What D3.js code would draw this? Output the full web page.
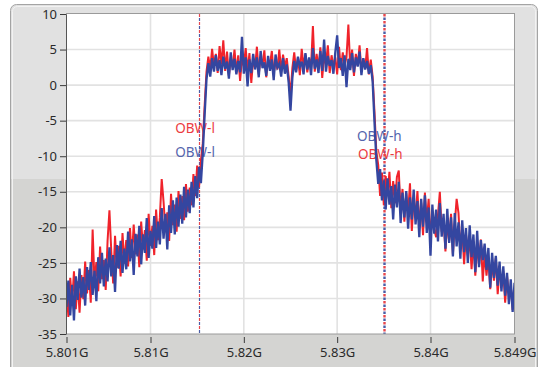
<!DOCTYPE html>
<html>
<head>
<meta charset="utf-8">
<script src="https://cdn.jsdelivr.net/npm/d3@7"></script>
<style>
  body { margin: 0; background: #ffffff; }
  svg { display: block; font-family: "Noto Sans", "DejaVu Sans", sans-serif; }
</style>
</head>
<body>
<div id="canvas"></div>
<script>
"use strict"

/* sweep grid of the trace: first point and spacing in Hz */
let freqStart = 5.801e9;
let freqStep = 0.2e6;

/* blue trace, dB, one value per sweep point */
let blueTrace = [
  -31.2,-27.5,-32.4,-28.1,-33.1,-26.9,-30.2,-25.8,-29.9,-27.0,
  -31.0,-25.6,-28.8,-24.9,-29.5,-26.1,-30.4,-24.2,-27.9,-23.6,
  -28.3,-24.4,-27.6,-22.8,-26.9,-23.9,-29.1,-22.5,-25.8,-21.9,
  -26.4,-23.0,-25.9,-20.6,-24.8,-21.7,-26.7,-20.9,-24.1,-19.8,
  -25.2,-21.0,-23.6,-18.7,-24.3,-20.5,-23.0,-18.4,-22.9,-19.2,
  -22.4,-17.3,-21.6,-18.1,-23.1,-16.9,-20.8,-16.2,-21.0,-15.8,
  -19.9,-15.4,-19.5,-14.3,-18.6,-14.7,-18.0,-13.6,-17.2,-12.8,
  -15.9,-11.5,-13.8,-9.6,-4.2,0.8,
  3.1,1.2,3.8,1.9,4.2,2.0,3.5,1.4,4.0,2.3,
  3.3,0.9,4.6,2.1,3.7,1.5,3.4,1.8,6.8,1.6,
  3.9,-0.2,3.6,1.7,4.4,2.2,3.9,1.1,4.8,2.4,
  3.2,1.3,4.1,2.0,3.6,0.7,4.3,2.5,3.0,1.2,
  3.8,1.6,2.9,0.4,-3.6,1.0,3.4,1.8,4.0,2.6,
  3.3,1.5,4.5,2.2,3.9,1.4,5.2,2.3,3.6,1.7,
  4.8,2.0,6.4,1.9,4.1,2.7,3.5,1.6,4.6,7.0,
  2.4,3.8,1.3,4.2,-0.3,3.7,2.1,4.5,1.8,3.9,
  2.6,4.7,1.4,3.8,2.2,3.4,1.6,2.8,0.5,
  -5.2,-10.6,-13.9,-11.8,-16.2,-13.4,-17.5,-13.1,-16.8,-14.2,
  -18.9,-14.0,-17.2,-13.6,-19.4,-15.1,-18.6,-14.9,-20.2,-15.8,
  -18.9,-14.7,-19.6,-16.3,-21.4,-16.0,-19.9,-15.5,-20.8,-17.2,
  -24.0,-16.8,-20.9,-17.5,-22.0,-16.6,-21.3,-18.1,-23.0,-17.4,
  -22.2,-18.6,-24.1,-18.0,-22.7,-19.3,-24.4,-19.0,-23.5,-20.1,
  -25.0,-19.7,-24.2,-21.0,-26.3,-20.5,-25.6,-21.8,-24.6,-22.3,
  -26.0,-22.9,-28.5,-23.6,-27.1,-24.0,-28.2,-24.8,-29.0,-25.5,
  -29.6,-26.4,-30.8,-27.3,-31.9,-27.8,-32.8
];

/* red trace, dB, same sweep points */
let redTrace = [
  -28.4,-32.6,-27.1,-30.8,-26.2,-31.5,-27.6,-32.0,-26.7,-30.1,
  -24.8,-29.3,-26.0,-30.6,-20.3,-27.8,-24.9,-29.0,-22.7,-27.3,
  -24.6,-28.8,-21.9,-17.6,-23.4,-27.9,-21.2,-25.7,-22.6,-26.9,
  -20.8,-25.1,-21.8,-25.5,-20.1,-24.3,-19.6,-23.8,-21.0,-25.6,
  -19.2,-23.1,-20.4,-24.7,-18.1,-22.6,-19.8,-23.9,-17.5,-21.8,
  -18.6,-13.2,-16.4,-20.5,-17.9,-21.9,-15.3,-19.7,-16.8,-20.6,
  -14.9,-18.8,-15.6,-19.0,-13.9,-17.8,-14.4,-16.9,-12.5,-15.6,
  -11.3,-14.4,-10.6,-8.2,-2.9,1.9,
  4.0,2.2,5.1,2.6,4.4,1.7,5.5,2.9,6.3,2.0,
  4.7,1.3,3.9,2.5,5.0,1.8,4.2,0.6,3.8,2.7,
  5.2,1.9,4.5,0.3,3.7,2.4,5.4,1.5,4.0,2.8,
  4.9,1.1,3.6,2.9,4.8,1.6,3.5,2.2,5.0,1.9,
  4.3,2.6,3.8,1.2,-1.5,2.4,4.6,2.0,3.9,1.4,
  5.1,2.7,4.3,1.8,3.7,2.5,8.3,1.9,4.4,2.3,
  5.3,1.0,4.1,2.9,5.6,1.7,4.2,2.6,3.9,1.5,
  5.4,2.1,4.6,2.8,3.9,8.5,2.4,5.0,1.3,4.4,
  2.7,5.6,1.9,3.7,2.3,5.2,1.5,3.6,1.2,
  -3.8,-9.4,-11.2,-15.6,-12.3,-16.9,-12.8,-15.4,-12.2,-17.3,
  -13.5,-16.6,-12.9,-12.0,-17.9,-14.6,-19.2,-15.2,-18.1,-13.8,
  -20.5,-15.9,-18.7,-14.9,-20.0,-16.5,-21.1,-15.1,-19.3,-16.0,
  -21.6,-17.9,-20.2,-21.4,-18.3,-15.0,-20.6,-18.9,-23.4,-19.2,
  -22.0,-18.1,-23.8,-19.5,-16.0,-18.0,-23.1,-20.3,-25.2,-20.9,
  -24.0,-21.5,-25.9,-21.9,-26.8,-22.4,-25.3,-21.7,-27.6,-23.6,
  -26.8,-24.2,-28.7,-24.9,-27.5,-24.3,-29.4,-25.8,-28.1,-26.2,
  -30.6,-26.9,-29.4,-28.3,-31.6
];

/* axis ticks */
let xTicks = [5.801e9, 5.81e9, 5.82e9, 5.83e9, 5.84e9, 5.849e9];
let yTicks = [-35, -30, -25, -20, -15, -10, -5, 0, 5, 10];

/* occupied bandwidth markers */
let obwNames = ["OBW-l", "OBW-h"];
let obwFreqs = [5.81522e9, 5.83502e9];

let W = 544, H = 367;
let plot = {left: 66.5, right: 514.5, top: 14, bottom: 334};

let drawing = d3.select("#canvas")
    .append("svg")
    .attr("width", W)
    .attr("height", H);

/* panel behind the graph: light on top, darker lower half */
let grad = drawing.append("defs").append("linearGradient")
    .attr("id", "panelFill")
    .attr("x1", 0).attr("y1", 0).attr("x2", 0).attr("y2", 1);
grad.append("stop").attr("offset", "0.46").attr("stop-color", "#e1e1e1");
grad.append("stop").attr("offset", "0.46").attr("stop-color", "#d4d4d2");

drawing.append("rect")
    .attr("x", 10.5).attr("y", 4.5)
    .attr("width", 527).attr("height", 380)
    .attr("rx", 6)
    .attr("fill", "url(#panelFill)")
    .attr("stroke", "#a4a4a4");
drawing.append("rect")
    .attr("x", 12.5).attr("y", 6.5)
    .attr("width", 523).attr("height", 380)
    .attr("rx", 5)
    .attr("fill", "none")
    .attr("stroke", "#f2f2f2");

let x = d3.scaleLinear().domain([5.801e9, 5.849e9]).range([plot.left, plot.right]);
let y = d3.scaleLinear().domain([-35, 10]).range([plot.bottom, plot.top]);

drawing.append("rect")
    .attr("x", plot.left).attr("y", plot.top)
    .attr("width", plot.right - plot.left).attr("height", plot.bottom - plot.top)
    .attr("fill", "#ffffff");

/* grid */
let grid = drawing.append("g").attr("stroke", "#e2e2e2").attr("stroke-width", 1.6);
grid.selectAll("line.v")
    .data(xTicks.slice(1, -1))
    .join("line")
    .attr("x1", d => x(d)).attr("x2", d => x(d))
    .attr("y1", plot.top).attr("y2", plot.bottom);
grid.selectAll("line.h")
    .data(yTicks.slice(1, -1))
    .join("line")
    .attr("y1", d => y(d)).attr("y2", d => y(d))
    .attr("x1", plot.left).attr("x2", plot.right);

/* markers: left one thin dashed, right one heavy dotted, red and blue in turn */
let mWidth = [1.2, 2.4];
let mDash = [["3,5", 0, 4], ["2.5,4.5", 0, 3.5]];
obwFreqs.forEach((f, k) => {
    let mx = Math.round(x(f)) + 0.5;
    drawing.append("line")
        .attr("x1", mx).attr("x2", mx).attr("y1", plot.top).attr("y2", plot.bottom)
        .attr("stroke", "#e8474c").attr("stroke-width", mWidth[k])
        .attr("stroke-dasharray", mDash[k][0]).attr("stroke-dashoffset", mDash[k][1]);
    drawing.append("line")
        .attr("x1", mx).attr("x2", mx).attr("y1", plot.top).attr("y2", plot.bottom)
        .attr("stroke", "#4a5ca6").attr("stroke-width", mWidth[k])
        .attr("stroke-dasharray", mDash[k][0]).attr("stroke-dashoffset", mDash[k][2]);
});

/* marker names, each drawn twice (one per trace); traces go over them */
let labels = [
    {name: obwNames[0], f: obwFreqs[0], dx: -24, y: 133, c: "#ec3b3f"},
    {name: obwNames[0], f: obwFreqs[0], dx: -24, y: 157, c: "#5565ad"},
    {name: obwNames[1], f: obwFreqs[1], dx: -27, y: 141, c: "#5565ad"},
    {name: obwNames[1], f: obwFreqs[1], dx: -26, y: 158.5, c: "#ec3b3f"}
];
drawing.selectAll("text.obw")
    .data(labels)
    .join("text")
    .attr("class", "obw")
    .attr("x", d => x(d.f) + d.dx)
    .attr("y", d => d.y)
    .attr("fill", d => d.c)
    .attr("font-size", 13.5)
    .text(d => d.name);

/* traces, red under blue */
let line = d3.line()
    .x((d, i) => x(freqStart + i * freqStep))
    .y(d => y(d));

drawing.append("clipPath").attr("id", "plotClip").append("rect")
    .attr("x", plot.left).attr("y", plot.top)
    .attr("width", plot.right - plot.left).attr("height", plot.bottom - plot.top);

drawing.append("path")
    .datum(redTrace)
    .attr("clip-path", "url(#plotClip)")
    .attr("d", line)
    .attr("fill", "none")
    .attr("stroke", "#f0232b")
    .attr("stroke-width", 2.0);
drawing.append("path")
    .datum(blueTrace)
    .attr("clip-path", "url(#plotClip)")
    .attr("d", line)
    .attr("fill", "none")
    .attr("stroke", "#3446a0")
    .attr("stroke-width", 2.3);

/* frame */
drawing.append("rect")
    .attr("x", plot.left).attr("y", plot.top - 0.5)
    .attr("width", plot.right - plot.left).attr("height", plot.bottom - plot.top + 0.5)
    .attr("fill", "none").attr("stroke", "#9a9a9a");

/* axes */
let yAxis = drawing.append("g")
    .attr("transform", `translate(${plot.left - 0.5},0)`)
    .call(d3.axisLeft(y).tickValues(yTicks).tickSize(6).tickPadding(3).tickSizeOuter(0)
        .tickFormat(d => String(d)));
let xAxis = drawing.append("g")
    .attr("transform", `translate(0,${plot.bottom + 3})`)
    .call(d3.axisBottom(x).tickValues(xTicks).tickSize(6).tickPadding(5)
        .tickFormat(d => (+(d / 1e9).toFixed(3)) + "G"));
xAxis.select(".domain").remove();

[yAxis, xAxis].forEach(a => {
    a.selectAll("text").attr("font-size", 13).attr("fill", "#2a2a2a")
        .attr("font-family", "'Noto Sans', 'DejaVu Sans', sans-serif");
    a.selectAll("line").attr("stroke", "#3a3a3a");
    a.select(".domain").attr("stroke", "#555555");
});
</script>
</body>
</html>
